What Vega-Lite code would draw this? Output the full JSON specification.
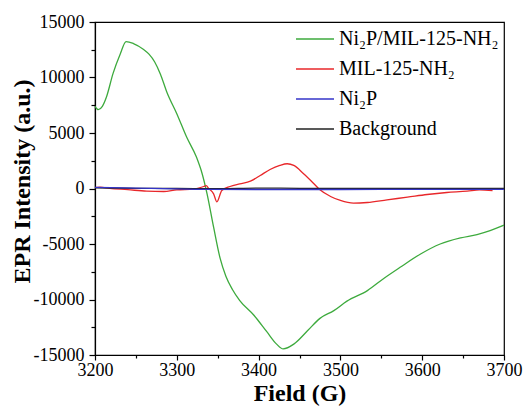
{
  "$schema": "https://vega.github.io/schema/vega-lite/v6.json",
  "width": 409,
  "height": 333,
  "autosize": {"type": "none"},
  "padding": {"left": 95, "top": 22, "right": 23, "bottom": 55},
  "background": "white",
  "config": {
    "font": "Liberation Serif",
    "view": {"stroke": "black", "strokeWidth": 1.2},
    "axis": {"domainColor": "black", "tickColor": "black", "labelColor": "black", "titleColor": "black", "grid": false}
  },
  "data": {"values": [
    {"series": "Ni₂P/MIL-125-NH₂", "field": 3200, "intensity": 7400},
    {"series": "Ni₂P/MIL-125-NH₂", "field": 3204, "intensity": 7100},
    {"series": "Ni₂P/MIL-125-NH₂", "field": 3209, "intensity": 7400},
    {"series": "Ni₂P/MIL-125-NH₂", "field": 3214, "intensity": 8240},
    {"series": "Ni₂P/MIL-125-NH₂", "field": 3222, "intensity": 10350},
    {"series": "Ni₂P/MIL-125-NH₂", "field": 3231, "intensity": 12150},
    {"series": "Ni₂P/MIL-125-NH₂", "field": 3238, "intensity": 13240},
    {"series": "Ni₂P/MIL-125-NH₂", "field": 3247, "intensity": 13060},
    {"series": "Ni₂P/MIL-125-NH₂", "field": 3259, "intensity": 12550},
    {"series": "Ni₂P/MIL-125-NH₂", "field": 3266, "intensity": 12100},
    {"series": "Ni₂P/MIL-125-NH₂", "field": 3273, "intensity": 11400},
    {"series": "Ni₂P/MIL-125-NH₂", "field": 3280, "intensity": 10300},
    {"series": "Ni₂P/MIL-125-NH₂", "field": 3288, "intensity": 8650},
    {"series": "Ni₂P/MIL-125-NH₂", "field": 3300, "intensity": 6740},
    {"series": "Ni₂P/MIL-125-NH₂", "field": 3312, "intensity": 4630},
    {"series": "Ni₂P/MIL-125-NH₂", "field": 3324, "intensity": 2830},
    {"series": "Ni₂P/MIL-125-NH₂", "field": 3331, "intensity": 1330},
    {"series": "Ni₂P/MIL-125-NH₂", "field": 3337, "intensity": -480},
    {"series": "Ni₂P/MIL-125-NH₂", "field": 3345, "intensity": -3490},
    {"series": "Ni₂P/MIL-125-NH₂", "field": 3353, "intensity": -6300},
    {"series": "Ni₂P/MIL-125-NH₂", "field": 3360, "intensity": -7900},
    {"series": "Ni₂P/MIL-125-NH₂", "field": 3368, "intensity": -9100},
    {"series": "Ni₂P/MIL-125-NH₂", "field": 3377, "intensity": -10100},
    {"series": "Ni₂P/MIL-125-NH₂", "field": 3394, "intensity": -11400},
    {"series": "Ni₂P/MIL-125-NH₂", "field": 3410, "intensity": -12900},
    {"series": "Ni₂P/MIL-125-NH₂", "field": 3422, "intensity": -14020},
    {"series": "Ni₂P/MIL-125-NH₂", "field": 3430, "intensity": -14450},
    {"series": "Ni₂P/MIL-125-NH₂", "field": 3443, "intensity": -14020},
    {"series": "Ni₂P/MIL-125-NH₂", "field": 3460, "intensity": -12800},
    {"series": "Ni₂P/MIL-125-NH₂", "field": 3475, "intensity": -11700},
    {"series": "Ni₂P/MIL-125-NH₂", "field": 3492, "intensity": -11000},
    {"series": "Ni₂P/MIL-125-NH₂", "field": 3508, "intensity": -10150},
    {"series": "Ni₂P/MIL-125-NH₂", "field": 3533, "intensity": -9200},
    {"series": "Ni₂P/MIL-125-NH₂", "field": 3553, "intensity": -8100},
    {"series": "Ni₂P/MIL-125-NH₂", "field": 3573, "intensity": -7100},
    {"series": "Ni₂P/MIL-125-NH₂", "field": 3598, "intensity": -5900},
    {"series": "Ni₂P/MIL-125-NH₂", "field": 3622, "intensity": -5000},
    {"series": "Ni₂P/MIL-125-NH₂", "field": 3647, "intensity": -4450},
    {"series": "Ni₂P/MIL-125-NH₂", "field": 3667, "intensity": -4150},
    {"series": "Ni₂P/MIL-125-NH₂", "field": 3683, "intensity": -3800},
    {"series": "Ni₂P/MIL-125-NH₂", "field": 3700, "intensity": -3300},

    {"series": "MIL-125-NH₂", "field": 3200, "intensity": 80},
    {"series": "MIL-125-NH₂", "field": 3206, "intensity": 120},
    {"series": "MIL-125-NH₂", "field": 3218, "intensity": 20},
    {"series": "MIL-125-NH₂", "field": 3240, "intensity": -100},
    {"series": "MIL-125-NH₂", "field": 3263, "intensity": -240},
    {"series": "MIL-125-NH₂", "field": 3284, "intensity": -270},
    {"series": "MIL-125-NH₂", "field": 3300, "intensity": -120},
    {"series": "MIL-125-NH₂", "field": 3320, "intensity": -60},
    {"series": "MIL-125-NH₂", "field": 3333, "intensity": 180},
    {"series": "MIL-125-NH₂", "field": 3336, "intensity": 260},
    {"series": "MIL-125-NH₂", "field": 3339, "intensity": 0},
    {"series": "MIL-125-NH₂", "field": 3345, "intensity": -480},
    {"series": "MIL-125-NH₂", "field": 3349, "intensity": -1200},
    {"series": "MIL-125-NH₂", "field": 3355, "intensity": -180},
    {"series": "MIL-125-NH₂", "field": 3365, "intensity": 180},
    {"series": "MIL-125-NH₂", "field": 3377, "intensity": 420},
    {"series": "MIL-125-NH₂", "field": 3390, "intensity": 660},
    {"series": "MIL-125-NH₂", "field": 3402, "intensity": 1170},
    {"series": "MIL-125-NH₂", "field": 3414, "intensity": 1710},
    {"series": "MIL-125-NH₂", "field": 3426, "intensity": 2080},
    {"series": "MIL-125-NH₂", "field": 3435, "intensity": 2230},
    {"series": "MIL-125-NH₂", "field": 3443, "intensity": 2080},
    {"series": "MIL-125-NH₂", "field": 3455, "intensity": 1330},
    {"series": "MIL-125-NH₂", "field": 3467, "intensity": 480},
    {"series": "MIL-125-NH₂", "field": 3475, "intensity": -120},
    {"series": "MIL-125-NH₂", "field": 3488, "intensity": -720},
    {"series": "MIL-125-NH₂", "field": 3500, "intensity": -1080},
    {"series": "MIL-125-NH₂", "field": 3516, "intensity": -1320},
    {"series": "MIL-125-NH₂", "field": 3533, "intensity": -1260},
    {"series": "MIL-125-NH₂", "field": 3557, "intensity": -1020},
    {"series": "MIL-125-NH₂", "field": 3582, "intensity": -780},
    {"series": "MIL-125-NH₂", "field": 3606, "intensity": -540},
    {"series": "MIL-125-NH₂", "field": 3630, "intensity": -360},
    {"series": "MIL-125-NH₂", "field": 3655, "intensity": -240},
    {"series": "MIL-125-NH₂", "field": 3670, "intensity": -120},
    {"series": "MIL-125-NH₂", "field": 3686, "intensity": -180},

    {"series": "Background", "field": 3200, "intensity": 60},
    {"series": "Background", "field": 3250, "intensity": 20},
    {"series": "Background", "field": 3300, "intensity": 0},
    {"series": "Background", "field": 3350, "intensity": -20},
    {"series": "Background", "field": 3400, "intensity": 30},
    {"series": "Background", "field": 3450, "intensity": 20},
    {"series": "Background", "field": 3500, "intensity": 10},
    {"series": "Background", "field": 3550, "intensity": 20},
    {"series": "Background", "field": 3600, "intensity": 10},
    {"series": "Background", "field": 3650, "intensity": 20},
    {"series": "Background", "field": 3700, "intensity": 20},

    {"series": "Ni₂P", "field": 3200, "intensity": 100},
    {"series": "Ni₂P", "field": 3250, "intensity": 30},
    {"series": "Ni₂P", "field": 3300, "intensity": -30},
    {"series": "Ni₂P", "field": 3340, "intensity": -80},
    {"series": "Ni₂P", "field": 3400, "intensity": -90},
    {"series": "Ni₂P", "field": 3500, "intensity": -90},
    {"series": "Ni₂P", "field": 3600, "intensity": -80},
    {"series": "Ni₂P", "field": 3700, "intensity": -80}
  ]},
  "mark": {"type": "line", "strokeWidth": 1.3, "interpolate": "monotone"},
  "encoding": {
    "x": {
      "field": "field", "type": "quantitative",
      "scale": {"domain": [3200, 3700], "nice": false, "zero": false},
      "axis": {
        "title": "Field (G)", "titleFont": "Liberation Serif", "titleFontSize": 24, "titleFontWeight": "bold", "titlePadding": 2,
        "values": [3200, 3250, 3300, 3350, 3400, 3450, 3500, 3550, 3600, 3650, 3700],
        "labelExpr": "datum.value % 100 === 0 ? '' + datum.value : ''",
        "labelFont": "Liberation Serif",
        "labelFontSize": 18, "labelPadding": 1, "labelFlush": false, "labelOverlap": false,
        "tickSize": {"condition": {"test": "datum.value % 100 === 0", "value": 5}, "value": 3},
        "tickWidth": 1.2, "domainWidth": 1.2
      }
    },
    "y": {
      "field": "intensity", "type": "quantitative",
      "scale": {"domain": [-15000, 15000], "nice": false, "zero": false},
      "axis": {
        "title": "EPR Intensity (a.u.)", "titleFont": "Liberation Serif", "titleFontSize": 24, "titleFontWeight": "bold", "titleY": 159, "titleX": -61, "titleBaseline": "bottom", "titleAngle": -90,
        "values": [-15000, -12500, -10000, -7500, -5000, -2500, 0, 2500, 5000, 7500, 10000, 12500, 15000],
        "labelExpr": "datum.value % 5000 === 0 ? '' + datum.value : ''",
        "labelFont": "Liberation Serif",
        "labelFontSize": 18, "labelPadding": 5, "labelFlush": false, "labelOverlap": false,
        "tickSize": {"condition": {"test": "datum.value % 5000 === 0", "value": 6}, "value": 4},
        "tickWidth": 1.2, "domainWidth": 1.2
      }
    },
    "color": {
      "field": "series", "type": "nominal",
      "sort": ["Ni₂P/MIL-125-NH₂", "MIL-125-NH₂", "Ni₂P", "Background"],
      "scale": {"domain": ["Ni₂P/MIL-125-NH₂", "MIL-125-NH₂", "Ni₂P", "Background"], "range": ["#3daa3d", "#e8272a", "#3434c8", "#222222"]},
      "legend": {
        "title": null, "orient": "none", "legendX": 200, "legendY": 2,
        "symbolType": "stroke", "symbolSize": 1444, "symbolStrokeWidth": 1.5,
        "labelFontSize": 20, "labelFont": "Liberation Serif", "labelColor": "black", "labelOffset": 4,
        "clipHeight": 30, "rowPadding": 0, "padding": 0, "labelLimit": 300
      }
    }
  }
}
